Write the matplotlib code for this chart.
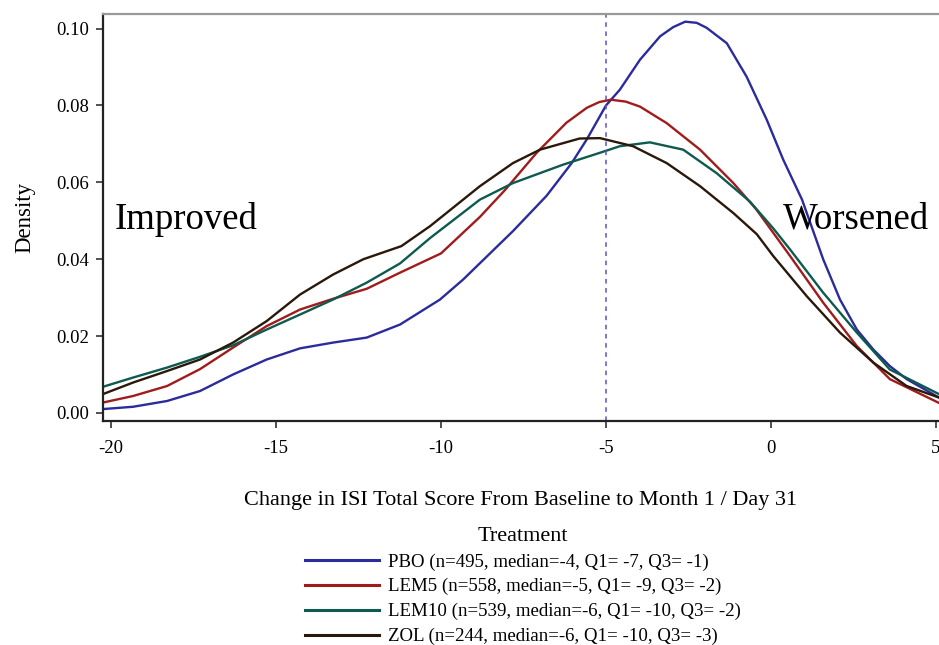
import numpy as np
import matplotlib.pyplot as plt

plt.rcParams['font.family'] = ['Liberation Serif', 'DejaVu Serif']

# values (x = change in ISI score, y = density)
x_pbo = [-20.24, -19.33, -18.3, -17.3, -16.3, -15.28, -14.27, -13.27, -12.25, -11.24, -10.03,
         -9.33, -7.82, -6.8, -6.04, -5.58, -5.0, -4.58, -3.97, -3.36, -2.96, -2.6, -2.25,
         -1.95, -1.34, -0.74, -0.13, 0.37, 0.94, 1.58, 2.09, 2.6, 3.1, 3.6, 4.11, 5.09]
y_pbo = [0.0010, 0.0016, 0.0031, 0.0057, 0.0100, 0.0139, 0.0168, 0.0183, 0.0196, 0.0230, 0.0295,
         0.0347, 0.0473, 0.0565, 0.0650, 0.0712, 0.0800, 0.0841, 0.0919, 0.0980, 0.1004, 0.1018,
         0.1015, 0.1002, 0.0962, 0.0875, 0.0763, 0.0659, 0.0555, 0.0400, 0.0295, 0.0217, 0.0165,
         0.0122, 0.0088, 0.0040]

x_lem5 = [-20.24, -19.33, -18.3, -17.3, -16.3, -15.28, -14.27, -13.27, -12.25, -11.24, -10.0,
          -8.82, -8.06, -7.1, -6.2, -5.58, -5.2, -4.85, -4.4, -3.97, -3.16, -2.15, -1.14, -0.45,
          0.58, 1.58, 2.6, 3.6, 5.09]
y_lem5 = [0.0027, 0.0044, 0.0070, 0.0114, 0.0170, 0.0226, 0.0269, 0.0297, 0.0323, 0.0365, 0.0415,
          0.0510, 0.0580, 0.0677, 0.0755, 0.0794, 0.0809, 0.0815, 0.0810, 0.0797, 0.0754, 0.0685,
          0.0598, 0.0530, 0.0408, 0.0287, 0.0174, 0.0088, 0.0026]

x_lem10 = [-20.24, -19.33, -18.3, -17.3, -16.3, -15.28, -14.27, -13.27, -12.25, -11.24, -10.33,
           -8.82, -7.82, -6.3, -5.18, -4.58, -3.67, -2.66, -1.65, -0.64, 0.07, 0.58, 1.58,
           2.6, 3.6, 5.09]
y_lem10 = [0.0068, 0.0092, 0.0118, 0.0146, 0.0176, 0.0217, 0.0256, 0.0295, 0.0339, 0.0389, 0.0455,
           0.0555, 0.0598, 0.0646, 0.0677, 0.0694, 0.0704, 0.0685, 0.0624, 0.0550, 0.0480, 0.0425,
           0.0313, 0.0209, 0.0113, 0.0049]

x_zol = [-20.24, -19.33, -18.3, -17.3, -16.3, -15.28, -14.27, -13.27, -12.35, -11.2, -10.33,
         -8.82, -7.82, -7.0, -5.8, -5.18, -4.18, -3.16, -2.15, -1.14, -0.43, 0.07, 1.08,
         2.09, 3.1, 4.11, 5.09]
y_zol = [0.0049, 0.0079, 0.0109, 0.0139, 0.0183, 0.0239, 0.0308, 0.0360, 0.0400, 0.0434, 0.0486,
         0.0590, 0.0650, 0.0685, 0.0714, 0.0715, 0.0694, 0.0650, 0.0590, 0.0520, 0.0465, 0.0408,
         0.0304, 0.0209, 0.0131, 0.0070, 0.0040]

labels = ['PBO (n=495, median=-4, Q1= -7, Q3= -1)',
          'LEM5 (n=558, median=-5, Q1= -9, Q3= -2)',
          'LEM10 (n=539, median=-6, Q1= -10, Q3= -2)',
          'ZOL (n=244, median=-6, Q1= -10, Q3= -3)']
colors = ['#2b2b9c', '#a01c1c', '#0e5a4e', '#2a180a']
median_line = -5

fig = plt.figure(figsize=(9.39, 6.45), dpi=100)
ax = fig.add_axes([0.1097, 0.3473, 0.8903, 0.631])

series = [(x_pbo, y_pbo), (x_lem5, y_lem5), (x_lem10, y_lem10), (x_zol, y_zol)]
for (xs, ys), lab, c in zip(series, labels, colors):
    ax.plot(xs, ys, color=c, lw=1.7, label=lab, solid_joinstyle='round')

ax.axvline(median_line, color='#5a50d0', lw=1.1, ls=(0, (3, 3)))

ax.text(-19.9, 0.0478, 'Improved', fontsize=26.5, va='baseline', ha='left')
ax.text(0.36, 0.0480, 'Worsened', fontsize=26.5, va='baseline', ha='left')

ax.set_xlim(-20.24, 5.09)
ax.set_ylim(-0.0021, 0.1038)
ax.set_xticks([-20, -15, -10, -5, 0, 5])
ax.set_xticklabels(['-20', '-15', '-10', '-5', '0', '5'])
ax.set_yticks([0.0, 0.02, 0.04, 0.06, 0.08, 0.10])
ax.set_yticklabels(['0.00', '0.02', '0.04', '0.06', '0.08', '0.10'])
ax.tick_params(direction='out', length=5, width=1.2, labelsize=13.5, color='#333333')
ax.tick_params(axis='x', pad=9)
ax.tick_params(axis='y', pad=5)

ax.spines['right'].set_visible(False)
ax.spines['top'].set_color('#999999')
ax.spines['top'].set_linewidth(1.6)
for s in ['left', 'bottom']:
    ax.spines[s].set_color('#222222')
    ax.spines[s].set_linewidth(1.6)

ax.set_xlabel('Change in ISI Total Score From Baseline to Month 1 / Day 31', fontsize=16, labelpad=24)
ax.set_ylabel('Density', fontsize=16.5, labelpad=15)

leg = fig.legend(loc='upper center', bbox_to_anchor=(0.557, 0.198), frameon=False,
                 title='Treatment', fontsize=13.6, title_fontsize=16, handlelength=3.9,
                 handletextpad=0.48, labelspacing=0.4, borderpad=0)
for h in leg.get_lines():
    h.set_linewidth(2.2)

fig.savefig('out.png', dpi=100)
